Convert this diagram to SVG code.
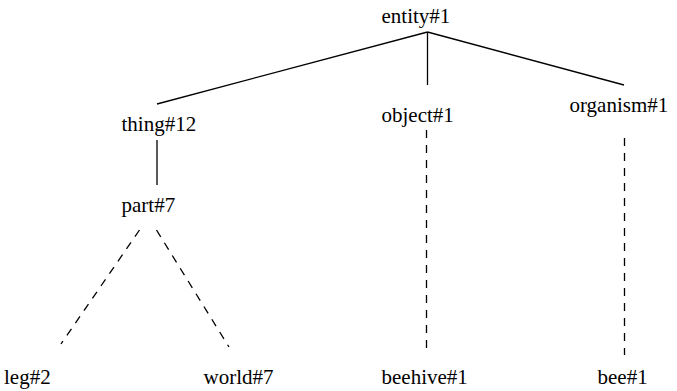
<svg xmlns="http://www.w3.org/2000/svg" width="677" height="391" viewBox="0 0 677 391">
<style>
text{font-family:'Liberation Serif',Tinos,'Times New Roman',Times,'Nimbus Roman','DejaVu Serif',serif;font-size:21px;fill:#000}
.s{stroke:#000;stroke-width:1.3;fill:none}
.d{stroke:#000;stroke-width:1.3;fill:none;stroke-dasharray:8 7}
</style>
<rect width="677" height="391" fill="#fff"/>
<g id="connectors">
<line class="s" x1="427.5" y1="32" x2="157" y2="104"/>
<line class="s" x1="427.5" y1="32" x2="427.5" y2="85"/>
<line class="s" x1="427.5" y1="32" x2="624" y2="85"/>
<line class="s" x1="157" y1="140" x2="157" y2="185"/>
<line class="d" x1="139.5" y1="230" x2="61" y2="344"/>
<line class="d" x1="156.5" y1="230" x2="229" y2="347"/>
<line class="d" x1="426.5" y1="130" x2="426.5" y2="355"/>
<line class="d" x1="624.5" y1="138" x2="624.5" y2="355"/>
</g>
<g id="entity"><text x="381.5" y="22.5" font-family="Liberation Serif, serif">entity#1</text></g>
<g id="thing"><text x="121.5" y="130.5" font-family="Liberation Serif, serif">thing#12</text></g>
<g id="object"><text x="381.5" y="121.5" font-family="Liberation Serif, serif">object#1</text></g>
<g id="organism"><text x="569.5" y="111.5" font-family="Liberation Serif, serif">organism#1</text></g>
<g id="part"><text x="121.5" y="211.5" font-family="Liberation Serif, serif">part#7</text></g>
<g id="leg"><text x="4" y="383.5" font-family="Liberation Serif, serif">leg#2</text></g>
<g id="world"><text x="203.5" y="383.5" font-family="Liberation Serif, serif">world#7</text></g>
<g id="beehive"><text x="381.5" y="383.5" font-family="Liberation Serif, serif">beehive#1</text></g>
<g id="bee"><text x="597.5" y="383.5" font-family="Liberation Serif, serif">bee#1</text></g>
</svg>
